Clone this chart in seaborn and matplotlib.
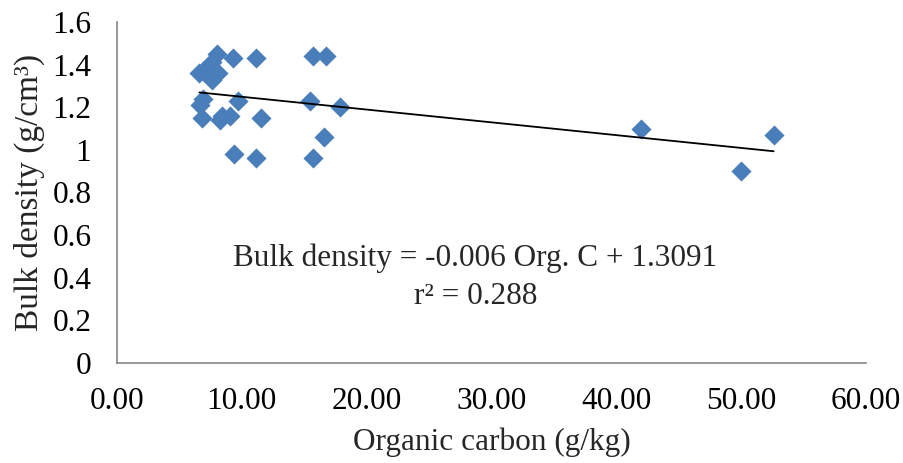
import numpy as np
import pandas as pd
import matplotlib
matplotlib.use("Agg")
import matplotlib.pyplot as plt
import seaborn as sns

# Organic carbon (g/kg) and bulk density (g/cm3) per sample
organic_carbon = [6.6, 7.3, 7.6, 8.04, 8.1, 7.6, 6.9, 9.32, 11.1,
                  6.9, 6.65, 9.7, 6.8, 8.4, 8.25, 9.05, 11.5,
                  9.4, 11.1, 15.7, 16.75, 15.5, 17.9, 16.6, 15.7,
                  42.0, 50.0, 52.6]
bulk_density = [1.36, 1.39, 1.41, 1.45, 1.36, 1.33, 1.37, 1.43, 1.43,
                1.24, 1.21, 1.23, 1.15, 1.16, 1.14, 1.16, 1.15,
                0.98, 0.96, 1.44, 1.44, 1.23, 1.20, 1.06, 0.96,
                1.10, 0.90, 1.07]

# Linear trend reported for the data
slope = -0.006
intercept = 1.3091
r_squared = 0.288

x_ticks = [0, 10, 20, 30, 40, 50, 60]
y_ticks = [0, 0.2, 0.4, 0.6, 0.8, 1.0, 1.2, 1.4, 1.6]

df = pd.DataFrame({"oc": organic_carbon, "bd": bulk_density})

sns.set_theme(style="white")
plt.rcParams["font.family"] = ["Liberation Serif", "DejaVu Serif"]

FS = 22.5

fig = plt.figure(figsize=(9.04, 4.63), dpi=100)
ax = fig.add_axes([0.1294, 0.216, 0.8286, 0.7365])

sns.scatterplot(data=df, x="oc", y="bd", marker="D", s=105,
                color="#4a7ebb", linewidth=0, ax=ax, zorder=3)

xs = np.array([min(organic_carbon), max(organic_carbon)])
ax.plot(xs, slope * xs + intercept, color="black", linewidth=1.3, zorder=4)

ax.set_xlim(0, 60)
ax.set_ylim(0, 1.6)
ax.set_xticks(x_ticks)
ax.set_xticklabels([f"{v:.2f}" for v in x_ticks])
ax.set_yticks(y_ticks)
ax.set_yticklabels([f"{v:g}" for v in y_ticks])

for side in ("top", "right"):
    ax.spines[side].set_visible(False)
for side in ("left", "bottom"):
    ax.spines[side].set_color("#868686")
    ax.spines[side].set_linewidth(1.2)
ax.tick_params(axis="both", direction="out", length=6.5, width=1.2,
               color="#868686", labelsize=FS, labelcolor="black")
ax.tick_params(axis="y", pad=12)
ax.tick_params(axis="x", pad=11)

ax.set_xlabel("Organic carbon (g/kg)", fontsize=FS, labelpad=8)
ax.set_ylabel("Bulk density (g/cm³)", fontsize=24, labelpad=5)

ax.text(28.7, 0.49, f"Bulk density = {slope} Org. C + {intercept}",
        fontsize=FS, ha="center", va="center")
ax.text(28.7, 0.31, f"r² = {r_squared}", fontsize=FS, ha="center", va="center")

fig.savefig("out.png", dpi=100, facecolor="white")
